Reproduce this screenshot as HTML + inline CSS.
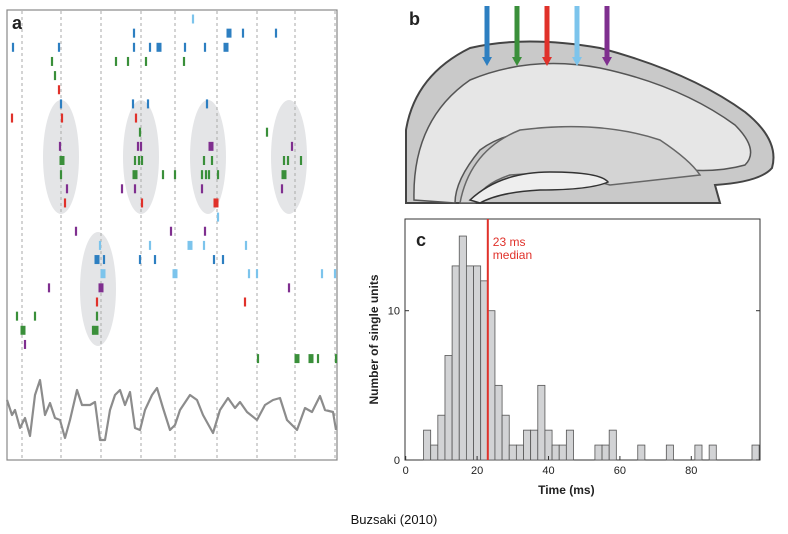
<!DOCTYPE html>
<html><head><meta charset="utf-8"><style>
body{margin:0;background:#fff;width:788px;height:534px;overflow:hidden;font-family:"Liberation Sans",sans-serif}
svg{position:absolute;left:0;top:0}
</style></head><body>
<svg id="fig" width="788" height="534" viewBox="0 0 788 534">
 <g id="panelA">
  <rect x="7" y="10" width="330" height="450" fill="#fff" stroke="#888" stroke-width="1.2"/>
  <text x="12" y="29" font-size="18" font-weight="bold" fill="#222">a</text>
 </g>
 <g id="panelB">
  <path d="M406,203 L406,130 Q415,75 470,48 Q525,35 600,48 Q690,72 745,112 Q780,140 772,168 Q760,182 715,185 L720,203 Z" fill="#c9c9c9" stroke="#444" stroke-width="2"/>
  <path d="M414,200 Q412,120 470,80 Q530,55 600,68 Q680,85 735,125 Q760,150 745,165 Q720,172 690,170 Q660,150 600,135 Q520,120 480,150 Q455,180 455,203 Z" fill="#e6e6e6" stroke="#555" stroke-width="1.5"/>
  <path d="M460,203 Q470,150 520,130 Q600,120 660,140 Q690,160 700,175 L610,185 Q560,170 510,175 Q480,185 475,203 Z" fill="#d4d4d4" stroke="#666" stroke-width="1.5"/>
  <path d="M470,200 Q500,172 550,172 Q600,172 608,182 Q590,190 540,190 Q500,192 480,203 Z" fill="#eee" stroke="#333" stroke-width="1.5"/>
  <text x="409" y="25" font-size="18" font-weight="bold" fill="#222">b</text>
 </g>
 <g id="panelC"></g>
 <text x="394" y="524" font-size="13" text-anchor="middle" fill="#111">Buzsaki (2010)</text>
</svg>
<script>
const NS="http://www.w3.org/2000/svg";
function mk(tag,attrs,parent){const e=document.createElementNS(NS,tag);for(const k in attrs)e.setAttribute(k,attrs[k]);parent.appendChild(e);return e;}

/* ---------- Panel c data ---------- */
const binStarts=[5,7,9,11,13,15,17,19,21,23,25,27,29,31,33,35,37,39,41,43,45,53,55,57,65,73,81,85,97];
const binCounts=[2,1,3,7,13,15,13,13,12,10,5,3,1,1,2,2,5,2,1,1,2,1,1,2,1,1,1,1,1];
const binWidth=2;
const medianMs=23;
const xTicks=[0,20,40,60,80];
const yTicks=[0,10];

/* ---------- Panel a data ---------- */
const gridTimes=[22,61,101,141,175,217,257,295,335];
const spikeX=[193,134,229,243,276,13,59,134,150,159,185,205,226,52,116,128,146,184,55,59,61,133,148,207,12,62,136,140,267,60,138,141,211,292,62,135,139,142,204,212,284,288,301,61,135,163,175,202,206,209,218,284,67,122,135,202,282,65,142,216,218,76,171,205,100,150,190,204,246,97,104,140,155,214,223,103,175,249,257,322,335,49,101,289,97,245,17,35,97,23,93,96,25,258,297,311,318,336];
const spikeRow=[0,1,1,1,1,2,2,2,2,2,2,2,2,3,3,3,3,3,4,5,6,6,6,6,7,7,7,8,8,9,9,9,9,9,10,10,10,10,10,10,10,10,10,11,11,11,11,11,11,11,11,11,12,12,12,12,12,13,13,13,14,15,15,15,16,16,16,16,16,17,17,17,17,17,17,18,18,18,18,18,18,19,19,19,20,20,21,21,21,22,22,22,23,24,24,24,24,24];
const spikeColor=["lb","b","b","b","b","b","b","b","b","b","b","b","b","g","g","g","g","g","g","r","b","b","b","b","r","r","r","g","g","p","p","p","p","p","g","g","g","g","g","g","g","g","g","g","g","g","g","g","g","g","g","g","p","p","p","p","p","r","r","r","lb","p","p","p","lb","lb","lb","lb","lb","b","b","b","b","b","b","lb","lb","lb","lb","lb","lb","p","p","p","r","r","g","g","g","g","g","g","p","g","g","g","g","g"];
const spikeWide=[0,0,1,0,0,0,0,0,0,1,0,0,1,0,0,0,0,0,0,0,0,0,0,0,0,0,0,0,0,0,0,0,1,0,1,0,0,0,0,0,0,0,0,0,1,0,0,0,0,0,0,1,0,0,0,0,0,0,0,1,0,0,0,0,0,0,1,0,0,1,0,0,0,0,0,1,1,0,0,0,0,0,1,0,0,0,0,0,0,1,0,1,0,0,1,1,0,0];
const ellX=[61,141,208,289,98];
const ellY=[157,157,157,157,289];
const lfpT=[7,12,15,20,25,30,35,40,45,50,55,60,65,70,77,82,90,95,100,105,110,115,120,125,130,135,140,145,152,157,163,170,175,180,190,197,203,213,220,228,235,240,247,257,265,273,280,287,297,305,312,320,325,333,336];
const lfpV=[400,415,410,428,418,436,395,380,415,403,418,420,438,420,390,405,405,402,440,440,410,395,390,405,392,428,430,410,395,388,408,430,425,410,395,400,415,433,410,398,408,402,412,420,405,400,398,420,430,408,412,396,410,412,430];

/* ---------- draw panel a ---------- */
const A=document.getElementById('panelA');
const colors={b:"#2d7fc1",g:"#3a8f3a",r:"#e0312a",lb:"#7cc4ec",p:"#7f2f8f"};
const rowY=r=>19+r*14.15;
const frame=A.firstElementChild;
for(let i=0;i<ellX.length;i++){
  const e=mk('ellipse',{cx:ellX[i],cy:ellY[i],rx:18,ry:57,fill:"#e4e5e7"},A);
  
  
}
for(const t of gridTimes){
  const l=mk('line',{x1:t,x2:t,y1:11,y2:459,stroke:"#aaa","stroke-width":1,"stroke-dasharray":"3,3"},A);
  
  
}
for(let i=0;i<spikeX.length;i++){
  const w=spikeWide[i]?5:2.2;
  const s=mk('rect',{x:spikeX[i]-w/2,y:rowY(spikeRow[i])-4.5,width:w,height:9,fill:colors[spikeColor[i]]},A);
  
  
}
const lfp=mk('polyline',{points:lfpT.map((t,i)=>t+","+lfpV[i]).join(" "),fill:"none",stroke:"#8c8c8c","stroke-width":2.2,"stroke-linejoin":"round"},A);


A.appendChild(A.querySelector('text'));

/* ---------- draw panel b arrows ---------- */
const B=document.getElementById('panelB');
const arrowX=[487,517,547,577,607];
const arrowC=["#2d7fc1","#3a8f3a","#e0312a","#7cc4ec","#7f2f8f"];
arrowX.forEach((x,i)=>{
  const g=mk('g',{},B);
  
  
  mk('rect',{x:x-2.5,y:6,width:5,height:52,fill:arrowC[i]},g);
  mk('polygon',{points:`${x-5},57 ${x+5},57 ${x},66`,fill:arrowC[i]},g);
});

/* ---------- draw panel c ---------- */
const C=document.getElementById('panelC');
const X0=405.7, PX=3.57, Y0=460, PY=14.93, LEFT=405, RIGHT=760, TOP=219;
const xs=v=>X0+v*PX, ys=v=>Y0-v*PY;
const box=mk('rect',{x:LEFT,y:TOP,width:RIGHT-LEFT,height:Y0-TOP,fill:"#fff",stroke:"#333","stroke-width":1},C);


for(let i=0;i<binStarts.length;i++){
  const b=mk('rect',{x:xs(binStarts[i]),y:ys(binCounts[i]),width:binWidth*PX,height:binCounts[i]*PY,fill:"#d2d3d5",stroke:"#555","stroke-width":0.8},C);
  
  
}
const med=mk('line',{x1:xs(medianMs),x2:xs(medianMs),y1:TOP,y2:Y0,stroke:"#e0312a","stroke-width":2},C);


const mt=mk('text',{x:xs(medianMs)+5,y:246,"font-size":12,fill:"#e0312a"},C);
mt.textContent="23 ms";


const mt2=mk('text',{x:xs(medianMs)+5,y:259,"font-size":12,fill:"#e0312a"},C);
mt2.textContent="median";


for(const t of xTicks){
  mk('line',{x1:xs(t),x2:xs(t),y1:Y0,y2:Y0-4,stroke:"#333"},C);
  const tl=mk('text',{x:xs(t),y:Y0+14,"font-size":11,"text-anchor":"middle",fill:"#222"},C);
  tl.textContent=t;
  
  
}
for(const t of yTicks){
  mk('line',{x1:LEFT,x2:LEFT+4,y1:ys(t),y2:ys(t),stroke:"#333"},C);
  mk('line',{x1:RIGHT,x2:RIGHT-4,y1:ys(t),y2:ys(t),stroke:"#333"},C);
  const tl=mk('text',{x:LEFT-5,y:ys(t)+4,"font-size":11,"text-anchor":"end",fill:"#222"},C);
  tl.textContent=t;
  
  
}
const xt=mk('text',{x:xs(45),y:494,"font-size":12,"font-weight":"bold","text-anchor":"middle",fill:"#222"},C);
xt.textContent="Time (ms)";


const yt=mk('text',{x:0,y:0,"font-size":12,"font-weight":"bold","text-anchor":"middle",fill:"#222",transform:`translate(378,${(TOP+Y0)/2}) rotate(-90)`},C);
yt.textContent="Number of single units";


const cl=mk('text',{x:416,y:246,"font-size":18,"font-weight":"bold",fill:"#222"},C);
cl.textContent="c";


</script>
</body></html>
